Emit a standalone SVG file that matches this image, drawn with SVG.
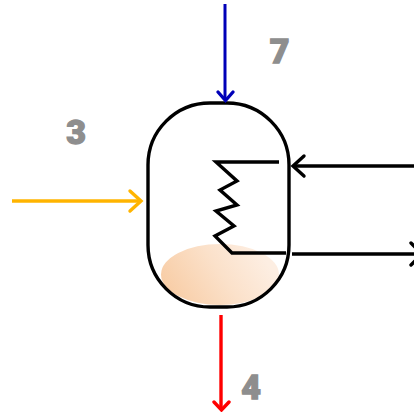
<svg xmlns="http://www.w3.org/2000/svg" width="414" height="412" viewBox="0 0 414 412">
<style>
.line{fill:none;stroke-linecap:butt;stroke-linejoin:miter}
.head{fill:none;stroke-linecap:round;stroke-linejoin:miter}
.label{font-family:"Roboto","Liberation Sans",sans-serif;font-weight:900;font-size:34px;fill:#8e8e8e;stroke:#8e8e8e;stroke-width:1.3px;text-anchor:middle}
</style>
<defs>
<linearGradient id="fluid" x1="0.05" y1="0.75" x2="0.95" y2="0.45">
<stop offset="0" stop-color="#f8cda6"/>
<stop offset="0.55" stop-color="#fbe1ca"/>
<stop offset="1" stop-color="#fdeee2"/>
</linearGradient>
</defs>
<rect width="414" height="412" fill="#fff"/>
<g id="fluid-node"><ellipse cx="220" cy="274.500" rx="59" ry="30.500" fill="url(#fluid)"/></g>
<g id="vessel"><rect x="148" y="103" width="141" height="204" rx="62" ry="62" fill="none" stroke="#000" stroke-width="3.400"/></g>
<g id="coil"><polyline class="line" stroke="#000" stroke-width="3.400" points="279,162 216,162 237,181 220,190 237,205 216,211 234,226 215,236 232,253 286,253"/></g>
<g id="connectors" stroke-width="3.400">
<g stroke="#0000b8"><path class="line" d="M225 4V100" stroke-width="3"/><path class="head" d="M218 92L225.500 100.500L233 92"/></g>
<g stroke="#ffb400"><path class="line" d="M12 201H140"/><path class="head" d="M130 191L141 201L130 211"/></g>
<g stroke="#000"><path class="line" d="M414 166H294"/><path class="head" d="M304 156L293 166L304 176"/></g>
<g stroke="#000"><path class="line" d="M292 254H414"/><path class="head" d="M411 243L422 254L411 265"/></g>
<g stroke="#ff0000"><path class="line" d="M221 315V409"/><path class="head" d="M214 402L221.500 410L229 402"/></g>
</g>
<g id="label-3"><text class="label" x="76" y="143.500">3</text></g>
<g id="label-7"><text class="label" x="279.500" y="63">7</text></g>
<g id="label-4"><text class="label" x="251" y="398.500">4</text></g>
</svg>
